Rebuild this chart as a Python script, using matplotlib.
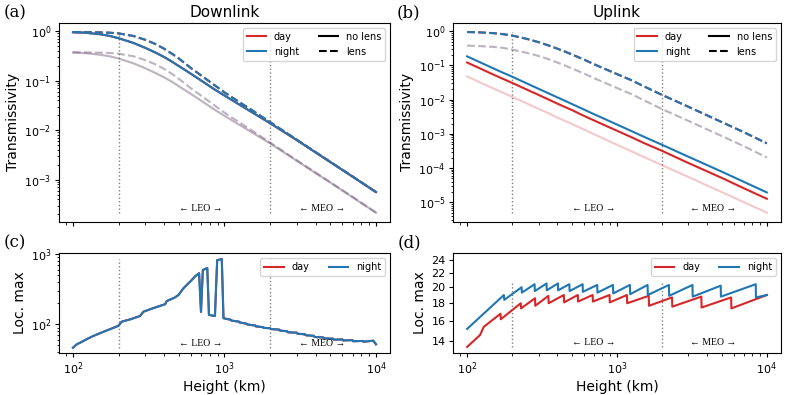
import matplotlib
matplotlib.use('Agg')
import matplotlib.pyplot as plt
from matplotlib.lines import Line2D
from matplotlib.ticker import FixedLocator, FixedFormatter, NullLocator

RED = '#d62728'
BLUE = '#1f77b4'

# ---------------- data: transmissivity ----------------
height = [100, 120, 150, 175, 200, 250, 300, 350, 400, 450, 500, 600, 700, 850, 1000, 1250, 1500, 2000, 3000, 5000, 7000, 10000]

# Downlink (day and night coincide)
down_nolens = [0.95, 0.93, 0.87, 0.80, 0.72, 0.58, 0.46, 0.37, 0.30, 0.242, 0.197, 0.138, 0.101, 0.068, 0.050, 0.033, 0.0235, 0.0138, 0.0063, 0.00226, 0.00115, 0.00056]
down_lens = [0.96, 0.955, 0.945, 0.93, 0.90, 0.80, 0.67, 0.55, 0.44, 0.35, 0.28, 0.18, 0.128, 0.083, 0.058, 0.037, 0.026, 0.0145, 0.0064, 0.00228, 0.00116, 0.00056]
down_nolens_faint = [0.37, 0.36, 0.335, 0.31, 0.28, 0.225, 0.178, 0.143, 0.116, 0.095, 0.077, 0.054, 0.0395, 0.0265, 0.0195, 0.0129, 0.0092, 0.0054, 0.0024, 0.00087, 0.00044, 0.000215]
down_lens_faint = [0.375, 0.372, 0.368, 0.362, 0.350, 0.312, 0.26, 0.214, 0.172, 0.137, 0.109, 0.070, 0.050, 0.0324, 0.0226, 0.0144, 0.0101, 0.0056, 0.00246, 0.00088, 0.00045, 0.000215]

# Uplink
up_lens = [0.95, 0.93, 0.88, 0.82, 0.75, 0.60, 0.48, 0.385, 0.31, 0.255, 0.21, 0.15, 0.11, 0.076, 0.056, 0.037, 0.025, 0.0138, 0.0062, 0.00222, 0.00113, 0.00053]
up_lens_faint = [0.38, 0.37, 0.35, 0.325, 0.29, 0.235, 0.19, 0.152, 0.122, 0.10, 0.082, 0.059, 0.043, 0.0298, 0.022, 0.0145, 0.0098, 0.0053, 0.0024, 0.00087, 0.00044, 0.000205]
up_night_nolens = [0.185, 0.128, 0.082, 0.0605, 0.047, 0.030, 0.0208, 0.0153, 0.0117, 0.0093, 0.0075, 0.0052, 0.0038, 0.0026, 0.00188, 0.00121, 0.00084, 0.00048, 0.000215, 7.9e-5, 4.0e-5, 1.95e-5]
up_day_nolens = [0.122, 0.085, 0.054, 0.040, 0.031, 0.0198, 0.0138, 0.0101, 0.0077, 0.0061, 0.0050, 0.0034, 0.0025, 0.0017, 0.00124, 0.00080, 0.00055, 0.00032, 0.000141, 5.2e-5, 2.6e-5, 1.27e-5]
up_day_nolens_faint = [0.048, 0.033, 0.0213, 0.0157, 0.0121, 0.0078, 0.0054, 0.0040, 0.0030, 0.0024, 0.00195, 0.00135, 0.00099, 0.00067, 0.00048, 0.00031, 0.000215, 0.000122, 5.5e-5, 2.0e-5, 1.02e-5, 5.0e-6]

# ---------------- data: local maxima, downlink ----------------
h_down_max = [100, 106, 112, 126, 140, 163, 180, 199, 210, 240, 277, 292, 340, 406, 416, 470, 497, 536, 594, 640, 680,
              700, 720, 770, 790, 865, 895, 960, 985,
              1100, 1110, 1250, 1260, 1400, 1410, 1600, 1610, 1800, 1810, 2000, 2030, 2300, 2320, 2600, 2620,
              3000, 3030, 3400, 3430, 3900, 3930, 4500, 4540, 5200, 5250, 6000, 6050, 7000, 7060, 8200, 8260, 9600, 10000]
v_down_max = [46.5, 52, 55, 63, 70, 80, 87, 95, 109, 118, 131, 151, 170, 193, 214, 240, 261, 325, 404, 480, 532,
              150, 590, 630, 136, 131, 815, 845, 122,
              116, 113, 109, 106, 102, 99.5, 96, 93.5, 91, 89, 88, 85.5, 84, 81.5, 79.5, 77,
              76, 73.5, 72, 70, 68.5, 66, 65, 63, 62.5, 60.5, 61, 59, 59.5, 57.5, 58, 56.5, 58.5, 52]

# ---------------- data: local maxima, uplink ----------------
h_up_night = [100, 176, 177, 231, 232, 282, 283, 339, 340, 404, 405, 481, 483, 590, 592, 738, 741, 940, 944,
              1220, 1225, 1600, 1607, 2220, 2230, 3190, 3200, 4920, 4940, 8430, 8460, 10000]
v_up_night = [15.2, 19.0, 18.4, 20.0, 19.3, 20.4, 19.5, 20.5, 19.6, 20.5, 19.6, 20.4, 19.5, 20.4, 19.4, 20.3, 19.3,
              20.3, 19.2, 20.3, 19.1, 20.3, 19.0, 20.3, 18.9, 20.3, 18.8, 20.2, 18.8, 20.4, 18.7, 19.0]
h_up_day = [100, 122, 129, 167, 168, 228, 229, 284, 285, 349, 350, 442, 444, 548, 550, 688, 691, 892, 896,
            1165, 1170, 1629, 1636, 2331, 2340, 3655, 3670, 5775, 5800, 10000]
v_up_day = [13.5, 14.6, 15.4, 16.8, 16.2, 18.0, 17.4, 18.6, 17.7, 18.9, 18.0, 19.0, 18.1, 19.0, 18.2, 19.0, 18.2,
            19.0, 18.1, 19.0, 18.0, 18.9, 17.7, 18.7, 17.6, 18.8, 17.5, 18.7, 17.4, 19.0]

loc_ticks = [14, 16, 18, 20, 22, 24]
orbit_lines = [200, 2000]
leo_x, meo_x = 700, 4400

# ---------------- figure ----------------
W, H = 789, 395
fig = plt.figure(figsize=(W / 100, H / 100), dpi=100)

def rect(l, r, t, b):
    return [l / W, 1 - b / H, (r - l) / W, (b - t) / H]

ax_a = fig.add_axes(rect(59, 390, 23, 221.7))
ax_b = fig.add_axes(rect(453.3, 780.7, 23, 221.7))
ax_c = fig.add_axes(rect(59, 390, 253.3, 352.7))
ax_d = fig.add_axes(rect(453.3, 780.7, 253.3, 352.7))

for ax in (ax_a, ax_b, ax_c, ax_d):
    ax.set_xscale('log')
    ax.set_yscale('log')
    ax.tick_params(labelsize=8, pad=2.5, length=3)
    ax.tick_params(which='minor', length=1.8)

LW = 1.5
FA = 0.25

# (a) Downlink
ax_a.plot(height, down_nolens_faint, color=RED, alpha=FA, lw=LW)
ax_a.plot(height, down_nolens_faint, color=BLUE, alpha=FA, lw=LW)
ax_a.plot(height, down_lens_faint, color=RED, alpha=FA, lw=LW, ls='--')
ax_a.plot(height, down_lens_faint, color=BLUE, alpha=FA, lw=LW, ls='--')
ax_a.plot(height, down_nolens, color=RED, lw=LW)
ax_a.plot(height, down_nolens, color=BLUE, lw=LW)
ax_a.plot(height, down_lens, color=RED, lw=LW, ls='--')
ax_a.plot(height, down_lens, color=BLUE, lw=LW, ls='--')

# (b) Uplink
ax_b.plot(height, up_day_nolens_faint, color=RED, alpha=FA, lw=LW)
ax_b.plot(height, up_lens_faint, color=RED, alpha=FA, lw=LW, ls='--')
ax_b.plot(height, up_lens_faint, color=BLUE, alpha=FA, lw=LW, ls='--')
ax_b.plot(height, up_day_nolens, color=RED, lw=LW)
ax_b.plot(height, up_night_nolens, color=BLUE, lw=LW)
ax_b.plot(height, up_lens, color=RED, lw=LW, ls='--')
ax_b.plot(height, up_lens, color=BLUE, lw=LW, ls='--')

# (c) loc max downlink
ax_c.plot(h_down_max, v_down_max, color=RED, lw=LW, label='day')
ax_c.plot(h_down_max, v_down_max, color=BLUE, lw=LW, label='night')

# (d) loc max uplink
ax_d.plot(h_up_day, v_up_day, color=RED, lw=LW, label='day')
ax_d.plot(h_up_night, v_up_night, color=BLUE, lw=LW, label='night')

for ax in (ax_a, ax_b, ax_c, ax_d):
    ax.set_xlim(80.9, 12370)

ax_c.set_ylim(39.5, 1020)
ax_d.set_ylim(13, 25)
ax_d.yaxis.set_major_locator(FixedLocator(loc_ticks))
ax_d.yaxis.set_major_formatter(FixedFormatter([str(t) for t in loc_ticks]))
ax_d.yaxis.set_minor_locator(NullLocator())

ax_a.tick_params(labelbottom=False)
ax_b.tick_params(labelbottom=False)

# orbit markers
def mark_orbits(ax, ys):
    lo, hi = min(ys), max(ys)
    for xv in orbit_lines:
        ax.plot([xv, xv], [lo, hi], color='grey', ls=':', lw=1.0, zorder=1, scalex=False, scaley=False)
    kw = dict(ha='center', va='bottom', fontsize=7, family=['Liberation Serif', 'DejaVu Serif'])
    ax.text(leo_x, lo, '\u2190 LEO \u2192', **kw)
    ax.text(meo_x, lo, '\u2190 MEO \u2192', **kw)

mark_orbits(ax_a, down_nolens + down_lens + down_nolens_faint + down_lens_faint)
mark_orbits(ax_b, up_lens + up_lens_faint + up_night_nolens + up_day_nolens + up_day_nolens_faint)
mark_orbits(ax_c, v_down_max)
mark_orbits(ax_d, v_up_day + v_up_night)

ax_a.set_title('Downlink', fontsize=11, pad=4)
ax_b.set_title('Uplink', fontsize=11, pad=4)
for ax in (ax_a, ax_b):
    ax.set_ylabel('Transmissivity', fontsize=10, labelpad=3)
for ax in (ax_c, ax_d):
    ax.set_ylabel('Loc. max', fontsize=10, labelpad=3)
    ax.set_xlabel('Height (km)', fontsize=10, labelpad=2)

handles = [Line2D([], [], color=RED, lw=LW), Line2D([], [], color=BLUE, lw=LW),
           Line2D([], [], color='k', lw=LW), Line2D([], [], color='k', lw=LW, ls='--')]
labels = ['day', 'night', 'no lens', 'lens']
for ax in (ax_a, ax_b):
    ax.legend(handles, labels, ncol=2, loc='upper right', fontsize=7)
for ax in (ax_c, ax_d):
    ax.legend(ncol=2, loc='upper right', fontsize=7)

pk = dict(fontsize=12, family='DejaVu Serif')
fig.text(4 / W, 1 - 17 / H, '(a)', **pk)
fig.text(397 / W, 1 - 17 / H, '(b)', **pk)
fig.text(4 / W, 1 - 247 / H, '(c)', **pk)
fig.text(398 / W, 1 - 247 / H, '(d)', **pk)

fig.savefig('out.png', dpi=100)
